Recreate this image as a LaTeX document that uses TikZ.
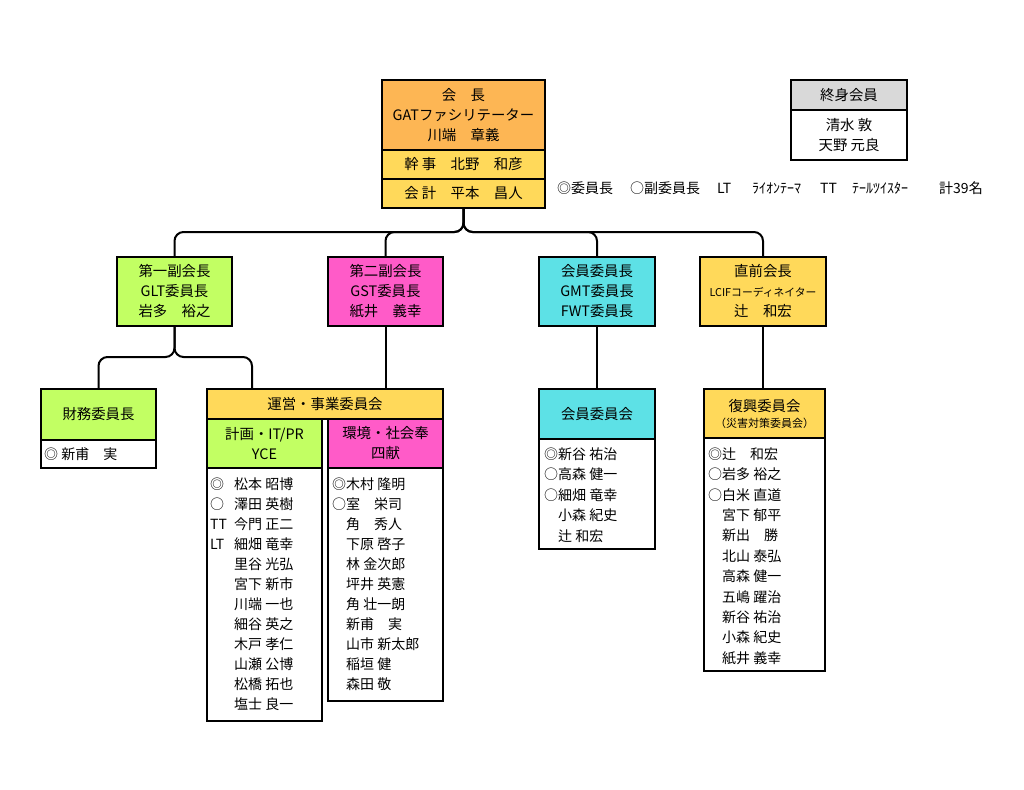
\documentclass[tikz,border=0pt]{standalone}
\usepackage{fontspec}
\setmainfont{Noto Sans CJK JP}
\definecolor{kaichoorange}{RGB}{253,182,84}
\definecolor{yakuyellow}{RGB}{255,217,90}
\definecolor{fukugreen}{RGB}{194,255,99}
\definecolor{fukupink}{RGB}{255,91,200}
\definecolor{kaiincyan}{RGB}{93,225,230}
\definecolor{shushingray}{RGB}{217,217,217}
\tikzset{
  orgbox/.style={draw, line width=2.2pt, align=center, inner sep=0pt, font=\fontsize{14.4}{20}\selectfont},
  listbox/.style={draw, line width=2.2pt, fill=white, inner sep=0pt},
  conn/.style={line width=2pt, rounded corners=9pt},
  member/.style={anchor=west, inner sep=0pt, font=\fontsize{14}{16}\selectfont}
}
\begin{document}
\begin{tikzpicture}[x=1pt, y=-1pt]
\fill[white] (0,0) rectangle (1024,789);
\useasboundingbox (0,0) rectangle (1024,789);

% 会長
\node[orgbox, fill=kaichoorange, minimum width=163pt, minimum height=70pt] (kaicho) at (463.5,115) {会　長\\GATファシリテーター\\川端　章義};
\node[orgbox, fill=yakuyellow, minimum width=163pt, minimum height=29pt] (kanji) at (463.5,164.5) {幹 事　北野　和彦};
\node[orgbox, fill=yakuyellow, minimum width=163pt, minimum height=29pt] (kaikei) at (463.5,193.5) {会 計　平本　昌人};

% 終身会員
\node[orgbox, fill=shushingray, minimum width=116pt, minimum height=30pt] (shushin) at (849,95) {終身会員};
\node[orgbox, fill=white, minimum width=116pt, minimum height=50pt] (shushinlist) at (849,135) {清水 敦\\天野 元良};

% legend
\node[member] (lg1) at (557,188) {◎委員長};
\node[member] (lg2) at (630,188) {○副委員長};
\node[member] (lg3) at (717,188) {LT};
\node[member] (lg4) at (752,188) {ﾗｲｵﾝﾃｰﾏ};
\node[member] (lg5) at (820,188) {TT};
\node[member] (lg6) at (852,188) {ﾃｰﾙﾂｲｽﾀｰ};
\node[member] (lg7) at (939,188) {計39名};

% second row
\node[orgbox, fill=fukugreen, minimum width=115pt, minimum height=69pt] (fuku1) at (174.5,291.5) {第一副会長\\GLT委員長\\岩多　裕之};
\node[orgbox, fill=fukupink, minimum width=115pt, minimum height=69pt] (fuku2) at (385.5,291.5) {第二副会長\\GST委員長\\紙井　義幸};
\node[orgbox, fill=kaiincyan, minimum width=116pt, minimum height=69pt] (kaiin) at (597,291.5) {会員委員長\\GMT委員長\\FWT委員長};
\node[orgbox, fill=yakuyellow, minimum width=126pt, minimum height=69pt] (chokuzen) at (763,291.5) {直前会長\\{\fontsize{10.8}{20}\selectfont LCIFコーディネイター}\\辻　和宏};

% third row
\node[orgbox, fill=fukugreen, minimum width=115pt, minimum height=51pt] (zaimu) at (98.5,414.5) {財務委員長};
\node[listbox, minimum width=115pt, minimum height=28pt] (zaimulist) at (98.5,454) {};
\node[member] (zaimu1) at (44,454) {◎ 新甫　実};

\node[orgbox, fill=yakuyellow, minimum width=236pt, minimum height=30pt] (unei) at (325,404) {運営・事業委員会};
\node[orgbox, fill=fukugreen, minimum width=115pt, minimum height=49pt] (keikaku) at (264.5,443.5) {計画・IT/PR\\YCE};
\node[orgbox, fill=fukupink, minimum width=115pt, minimum height=49pt] (kankyo) at (385.5,443.5) {環境・社会奉\\四献};
\node[listbox, minimum width=115pt, minimum height=253pt] (keikakulist) at (264.5,594.5) {};
\node[listbox, minimum width=115pt, minimum height=233pt] (kankyolist) at (385.5,584.5) {};

\node[orgbox, fill=kaiincyan, minimum width=116pt, minimum height=50pt] (kaiinkai) at (597,414) {会員委員会};
\node[listbox, minimum width=116pt, minimum height=110pt] (kaiinlist) at (597,494) {};

\node[orgbox, fill=yakuyellow, minimum width=121pt, minimum height=49pt, font=\fontsize{14.4}{16}\selectfont] (fukko) at (764.5,413.5) {復興委員会\\{\fontsize{11}{16}\selectfont（災害対策委員会）}};
\node[listbox, minimum width=121pt, minimum height=233pt] (fukkolist) at (764.5,554.5) {};

% members
\foreach \p/\n [count=\i from 0] in {◎/松本 昭博, ○/澤田 英樹, TT/今門 正二, LT/細畑 竜幸, {}/里谷 光弘, {}/宮下 新市, {}/川端 一也, {}/細谷 英之, {}/木戸 孝仁, {}/山瀬 公博, {}/松橋 拓也, {}/塩士 良一}
  \node[member] (keikaku\i) at (210,{484+20*\i}) {\makebox[24pt][l]{\p}\n};
\foreach \n [count=\i from 0] in {◎木村 隆明, ○室　栄司, 　角　秀人, 　下原 啓子, 　林 金次郎, 　坪井 英憲, 　角 壮一朗, 　新甫　実, 　山市 新太郎, 　稲垣 健, 　森田 敬}
  \node[member] (kankyo\i) at (332,{484+20*\i}) {\n};
\foreach \n [count=\i from 0] in {◎新谷 祐治, ○高森 健一, ○細畑 竜幸, 　小森 紀史, 　辻 和宏}
  \node[member] (kaiin\i) at (544,{454+20.5*\i}) {\n};
\foreach \n [count=\i from 0] in {◎辻　和宏, ○岩多 裕之, ○白米 直道, 　宮下 郁平, 　新出　勝, 　北山 泰弘, 　高森 健一, 　五嶋 躍治, 　新谷 祐治, 　小森 紀史, 　紙井 義幸}
  \node[member] (fukko\i) at (708,{454+20.4*\i}) {\n};

% connectors
\coordinate (bus) at (463.5,232);
\foreach \c in {fuku1,fuku2,kaiin,chokuzen}
  \draw[conn] (kaikei.south) -- (bus) -| (\c.north);
\coordinate (bus2) at (174.5,357);
\coordinate (uneitop) at (252,389);
\draw[conn] (fuku1.south) -- (bus2) -| (zaimu.north);
\draw[conn] (fuku1.south) -- (bus2) -| (uneitop);
\draw[conn] (fuku2.south) -- (fuku2.south |- unei.north);
\draw[conn] (kaiin.south) -- (kaiinkai.north);
\draw[conn] (chokuzen.south) -- (chokuzen.south |- fukko.north);
\end{tikzpicture}
\end{document}
